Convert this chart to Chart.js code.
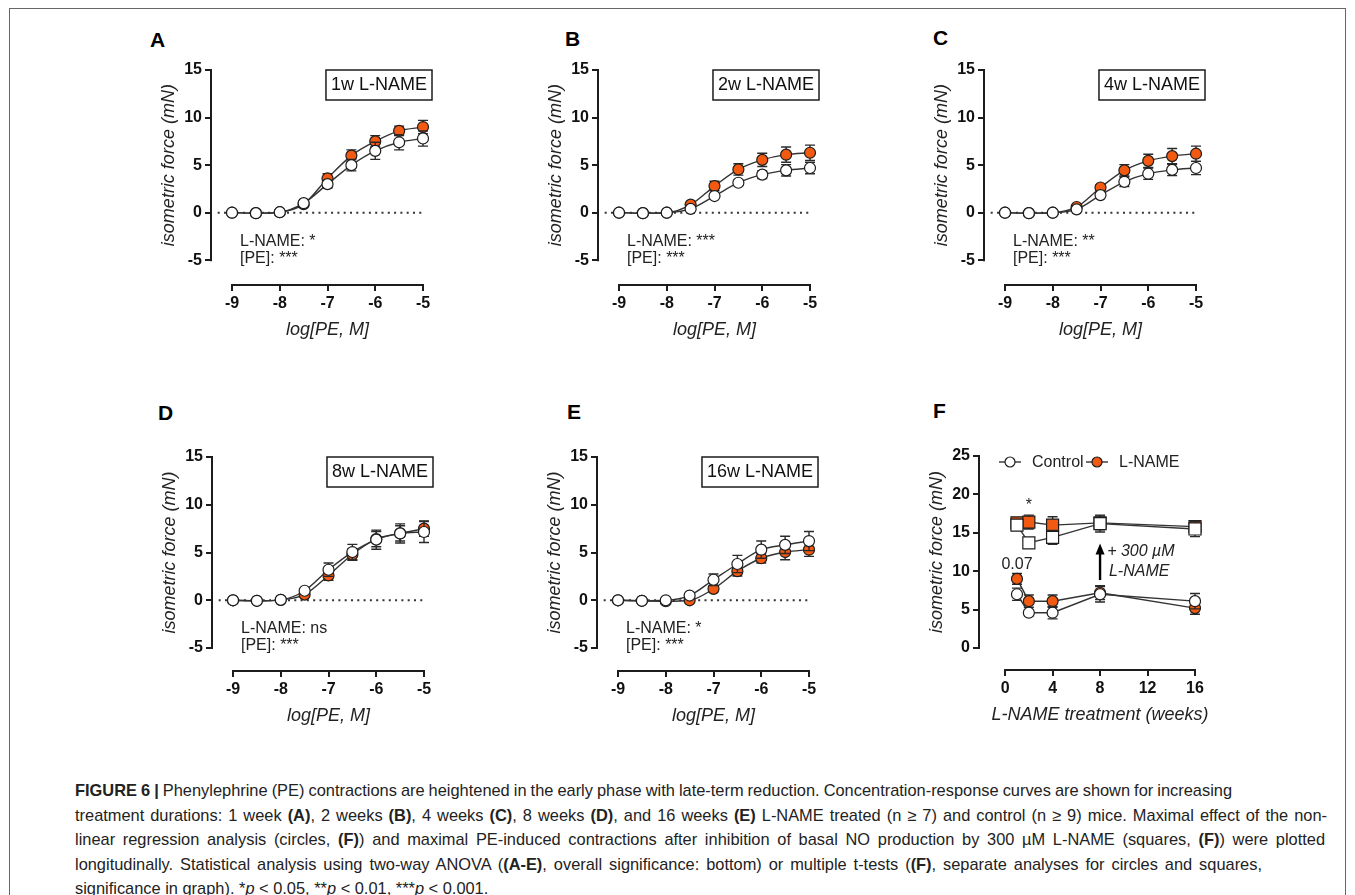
<!DOCTYPE html>
<html>
<head>
<meta charset="utf-8">
<script src="https://cdn.jsdelivr.net/npm/chart.js@4.4.1/dist/chart.umd.min.js"></script>
<style>
  body { margin: 0; background: #fff; }
  #fig { position: relative; width: 1355px; height: 895px; overflow: hidden; font-family: 'Liberation Sans', Arial, sans-serif; }
  #frame { position: absolute; left: 9px; top: 8px; width: 1335px; height: 920px; border: 1.5px solid #666; }
  canvas { position: absolute; }
  .lbl { position: absolute; font-weight: bold; font-size: 21px; line-height: 21px; color: #000; }
  #caption { position: absolute; left: 75px; top: 778px; font-size: 16.4px; line-height: 24.5px; color: #222; white-space: nowrap; }
  #caption div { text-align: justify; text-align-last: justify; }
  #caption div.last { text-align: left; text-align-last: left; }
</style>
</head>
<body>
<div id="fig">
  <div id="frame"></div>
  <div class="lbl" style="left:150px;top:29px">A</div>
  <div class="lbl" style="left:565px;top:28px">B</div>
  <div class="lbl" style="left:933px;top:27px">C</div>
  <div class="lbl" style="left:158px;top:402px">D</div>
  <div class="lbl" style="left:567px;top:401px">E</div>
  <div class="lbl" style="left:933px;top:400px">F</div>

  <canvas id="panelA" width="290" height="305" style="left:149px;top:45px"></canvas>
  <canvas id="panelB" width="290" height="305" style="left:536px;top:45px"></canvas>
  <canvas id="panelC" width="290" height="305" style="left:922px;top:45px"></canvas>
  <canvas id="panelD" width="290" height="304" style="left:150px;top:432px"></canvas>
  <canvas id="panelE" width="290" height="304" style="left:535px;top:432px"></canvas>
  <canvas id="panelF" width="298" height="304" style="left:917px;top:431px"></canvas>

  <div id="caption">
    <div style="width:1157px;word-spacing:-0.6px"><b>FIGURE 6 |</b> Phenylephrine (PE) contractions are heightened in the early phase with late-term reduction. Concentration-response curves are shown for increasing</div>
    <div style="width:1252px">treatment durations: 1 week <b>(A)</b>, 2 weeks <b>(B)</b>, 4 weeks <b>(C)</b>, 8 weeks <b>(D)</b>, and 16 weeks <b>(E)</b> L-NAME treated (n ≥ 7) and control (n ≥ 9) mice. Maximal effect of the non-</div>
    <div style="width:1250px">linear regression analysis (circles, <b>(F)</b>) and maximal PE-induced contractions after inhibition of basal NO production by 300 µM L-NAME (squares, <b>(F)</b>) were plotted</div>
    <div style="width:1187px">longitudinally. Statistical analysis using two-way ANOVA (<b>(A-E)</b>, overall significance: bottom) or multiple t-tests (<b>(F)</b>, separate analyses for circles and squares,</div>
    <div class="last">significance in graph). *<i>p</i> &lt; 0.05, **<i>p</i> &lt; 0.01, ***<i>p</i> &lt; 0.001.</div>
  </div>
</div>

<script>
// concentration-response panels (A-E)
const logPE = [-9, -8.5, -8, -7.5, -7, -6.5, -6, -5.5, -5];
const crcXTicks = [-9, -8, -7, -6, -5];
const crcYTicks = [-5, 0, 5, 10, 15];

const ctrl1w = [0, -0.05, 0.05, 1.0, 3.0, 5.0, 6.5, 7.4, 7.8];
const ctrl1wSem = [0, 0, 0, 0.15, 0.4, 0.6, 0.9, 0.8, 0.8];
const lname1w = [0, -0.05, 0.05, 0.9, 3.6, 6.0, 7.5, 8.6, 9.0];
const lname1wSem = [0, 0, 0, 0.15, 0.5, 0.6, 0.6, 0.5, 0.7];

const ctrl2w = [0, -0.05, 0, 0.4, 1.75, 3.15, 4.0, 4.45, 4.7];
const ctrl2wSem = [0, 0, 0, 0.1, 0.2, 0.3, 0.4, 0.6, 0.6];
const lname2w = [0, -0.05, 0, 0.85, 2.8, 4.55, 5.55, 6.1, 6.3];
const lname2wSem = [0, 0, 0, 0.2, 0.5, 0.6, 0.7, 0.8, 0.8];

const ctrl4w = [0, -0.05, 0, 0.35, 1.85, 3.25, 4.1, 4.5, 4.7];
const ctrl4wSem = [0, 0, 0, 0.1, 0.2, 0.5, 0.6, 0.6, 0.7];
const lname4w = [0, -0.05, 0, 0.6, 2.65, 4.45, 5.45, 5.95, 6.2];
const lname4wSem = [0, 0, 0, 0.1, 0.3, 0.6, 0.7, 0.8, 0.8];

const ctrl8w = [0, -0.05, 0.05, 1.0, 3.2, 5.05, 6.35, 7.0, 7.15];
const ctrl8wSem = [0, 0, 0, 0.2, 0.7, 0.8, 1.0, 1.0, 1.1];
const lname8w = [0, -0.05, 0.05, 0.6, 2.6, 4.8, 6.4, 7.0, 7.5];
const lname8wSem = [0, 0, 0, 0.2, 0.5, 0.6, 0.8, 0.8, 0.8];

const ctrl16w = [0, -0.05, 0, 0.5, 2.15, 3.8, 5.3, 5.8, 6.2];
const ctrl16wSem = [0, 0, 0, 0.1, 0.6, 0.9, 0.9, 0.9, 1.0];
const lname16w = [0, -0.05, -0.1, 0, 1.2, 3.05, 4.4, 5.05, 5.3];
const lname16wSem = [0, 0, 0, 0.1, 0.3, 0.5, 0.5, 0.8, 0.7];

// longitudinal panel (F)
const weeks = [1, 2, 4, 8, 16];
const weekTicks = [0, 4, 8, 12, 16];
const forceTicksF = [0, 5, 10, 15, 20, 25];
const ctrlBasal = [7.0, 4.6, 4.6, 7.0, 6.1];
const ctrlBasalSem = [0.8, 0.4, 0.8, 1.0, 1.0];
const lnameBasal = [9.0, 6.1, 6.1, 7.2, 5.2];
const lnameBasalSem = [0.7, 0.8, 0.8, 0.9, 0.8];
const ctrlInhib = [16.0, 13.7, 14.4, 16.2, 15.5];
const ctrlInhibSem = [0.6, 0.5, 0.9, 1.1, 1.0];
const lnameInhib = [16.3, 16.4, 16.0, 16.3, 15.8];
const lnameInhibSem = [0.4, 0.9, 1.1, 0.9, 0.6];

const FONT = "'Liberation Sans', Arial, sans-serif";
const ORANGE = '#f15a10';
const INK = '#1c1c1c';
Chart.defaults.font.family = FONT;

const decorById = {};

function pts(xs, ys) {
    return xs.map((x, i) => ({x: x, y: ys[i]}));
}

function series(label, xs, ys, sem, fill, style, smooth) {
    return {
        label: label,
        data: pts(xs, ys),
        sem: sem,
        borderColor: '#333',
        borderWidth: 1.4,
        pointStyle: style,
        pointRadius: style === 'rect' ? 8.5 : 5.5,
        pointBackgroundColor: fill,
        pointBorderColor: INK,
        pointBorderWidth: 1.2,
        cubicInterpolationMode: smooth ? 'monotone' : 'default',
        tension: 0,
        clip: false
    };
}

function axis(min, max, ticks, size, isY) {
    return {
        type: 'linear',
        min: min,
        max: max,
        bounds: 'data',
        afterBuildTicks: a => { a.ticks = ticks.map(v => ({value: v})); },
        afterFit: a => { if (isY) a.width = size; else a.height = size; },
        border: {display: false},
        grid: {drawOnChartArea: false, drawTicks: true, tickLength: 6, color: INK, lineWidth: 2},
        ticks: {padding: 3, color: '#111', font: {size: 16, weight: 'bold'}}
    };
}

const decor = {
    id: 'decor',
    beforeDatasetsDraw(chart) {
        const o = decorById[chart.canvas.id];
        const {ctx, chartArea: ca, scales: {x, y}} = chart;
        const x0 = x.getPixelForValue(o.xTicks[0]);
        const x1 = x.getPixelForValue(o.xTicks[o.xTicks.length - 1]);
        const y0 = y.getPixelForValue(o.yTicks[0]);
        const y1 = y.getPixelForValue(o.yTicks[o.yTicks.length - 1]);
        ctx.save();
        ctx.strokeStyle = INK;
        ctx.lineWidth = 2;
        ctx.beginPath();
        ctx.moveTo(ca.left, y0 + 1);
        ctx.lineTo(ca.left, y1 - 1);
        ctx.moveTo(x0 - 1, ca.bottom);
        ctx.lineTo(x1 + 1, ca.bottom);
        ctx.stroke();
        if (o.zeroFrom !== undefined) {
            const yz = y.getPixelForValue(0);
            ctx.setLineDash([2, 4.3]);
            ctx.strokeStyle = '#333';
            ctx.beginPath();
            ctx.moveTo(x.getPixelForValue(o.zeroFrom), yz);
            ctx.lineTo(x1, yz);
            ctx.stroke();
        }
        ctx.restore();
    },
    beforeDatasetDraw(chart, args) {
        // SEM bars, drawn under each dataset's markers
        const ds = chart.data.datasets[args.index];
        if (!ds.sem) return;
        const {ctx, scales: {y}} = chart;
        ctx.save();
        ctx.strokeStyle = '#2a2a2a';
        ctx.lineWidth = 1.4;
        args.meta.data.forEach((pt, i) => {
            const e = ds.sem[i];
            if (!e) return;
            const v = ds.data[i].y;
            const top = y.getPixelForValue(v + e);
            const bot = y.getPixelForValue(v - e);
            ctx.beginPath();
            ctx.moveTo(pt.x, top); ctx.lineTo(pt.x, bot);
            ctx.moveTo(pt.x - 5, top); ctx.lineTo(pt.x + 5, top);
            ctx.moveTo(pt.x - 5, bot); ctx.lineTo(pt.x + 5, bot);
            ctx.stroke();
        });
        ctx.restore();
    },
    afterDatasetsDraw(chart) {
        const o = decorById[chart.canvas.id];
        const {ctx, chartArea: ca, scales: {x, y}} = chart;
        const x0 = x.getPixelForValue(o.xTicks[0]);
        const x1 = x.getPixelForValue(o.xTicks[o.xTicks.length - 1]);
        const yMid = (y.getPixelForValue(o.yTicks[0]) + y.getPixelForValue(o.yTicks[o.yTicks.length - 1])) / 2;
        ctx.save();
        ctx.fillStyle = '#222';
        ctx.textAlign = 'center';
        ctx.textBaseline = 'middle';
        ctx.font = 'italic 18px ' + FONT;
        ctx.save();
        ctx.translate(ca.left - 42, yMid);
        ctx.rotate(-Math.PI / 2);
        ctx.fillText(o.yTitle, 0, 0);
        ctx.restore();
        ctx.fillText(o.xTitle, (x0 + x1) / 2, ca.bottom + 45);

        if (o.box) {
            ctx.font = '18px ' + FONT;
            const w = ctx.measureText(o.box).width + 10;
            const r = ca.left + 221;
            ctx.strokeStyle = INK;
            ctx.lineWidth = 1.5;
            ctx.strokeRect(r - w, ca.top, w, 30);
            ctx.fillStyle = '#111';
            ctx.fillText(o.box, r - w / 2, ca.top + 15.5);
        }

        (o.notes || []).forEach(n => {
            ctx.font = n.font;
            ctx.textAlign = n.align || 'left';
            ctx.fillStyle = '#222';
            const px = n.dx !== undefined ? ca.left + n.dx : x.getPixelForValue(n.x);
            const py = n.dy !== undefined ? ca.top + n.dy : y.getPixelForValue(n.y);
            ctx.fillText(n.text, px, py);
        });

        (o.legend || []).forEach(item => {
            const cx = ca.left + item.dx;
            const cy = ca.top + 6;
            ctx.strokeStyle = '#333';
            ctx.lineWidth = 1.4;
            ctx.beginPath();
            ctx.moveTo(cx - 11, cy); ctx.lineTo(cx + 11, cy);
            ctx.stroke();
            ctx.beginPath();
            ctx.arc(cx, cy, 5, 0, Math.PI * 2);
            ctx.fillStyle = item.fill;
            ctx.fill();
            ctx.lineWidth = 1.2;
            ctx.strokeStyle = INK;
            ctx.stroke();
            ctx.font = '16px ' + FONT;
            ctx.textAlign = 'left';
            ctx.fillStyle = '#222';
            ctx.fillText(item.label, cx + 22, cy + 1);
        });

        if (o.arrow) {
            const ax = x.getPixelForValue(o.arrow.x);
            const yFrom = y.getPixelForValue(o.arrow.from);
            const yTo = y.getPixelForValue(o.arrow.to);
            ctx.strokeStyle = '#000';
            ctx.fillStyle = '#000';
            ctx.lineWidth = 2.4;
            ctx.beginPath();
            ctx.moveTo(ax, yFrom); ctx.lineTo(ax, yTo + 8);
            ctx.stroke();
            ctx.beginPath();
            ctx.moveTo(ax, yTo); ctx.lineTo(ax - 4.5, yTo + 11); ctx.lineTo(ax + 4.5, yTo + 11);
            ctx.closePath();
            ctx.fill();
        }
        ctx.restore();
    }
};

function generateCRC(id, ctrl, ctrlSem, lname, lnameSem, boxText, lnameStat, yMin) {
    decorById[id] = {
        xTicks: crcXTicks, yTicks: crcYTicks, zeroFrom: -9.3,
        yTitle: 'isometric force (mN)', xTitle: 'log[PE, M]',
        box: boxText,
        notes: [
            {text: 'L-NAME: ' + lnameStat, dx: 29, dy: 172, font: '16px ' + FONT},
            {text: '[PE]: ***', dx: 29, dy: 189, font: '16px ' + FONT}
        ]
    };
    return new Chart(document.getElementById(id), {
        type: 'line',
        data: {
            datasets: [
                series('Control', logPE, ctrl, ctrlSem, '#ffffff', 'circle', true),
                series('L-NAME', logPE, lname, lnameSem, ORANGE, 'circle', true)
            ]
        },
        options: {
            responsive: false, animation: false, events: [], devicePixelRatio: 1,
            layout: {padding: {left: 0, top: 25, right: 16, bottom: 0}},
            scales: {
                x: axis(-9.44, -5, crcXTicks, 65, false),
                y: axis(yMin, 15, crcYTicks, 62, true)
            },
            plugins: {legend: {display: false}, tooltip: {enabled: false}}
        },
        plugins: [decor]
    });
}

generateCRC('panelA', ctrl1w, ctrl1wSem, lname1w, lname1wSem, '1w L-NAME', '*', -7.6);
generateCRC('panelB', ctrl2w, ctrl2wSem, lname2w, lname2wSem, '2w L-NAME', '***', -7.6);
generateCRC('panelC', ctrl4w, ctrl4wSem, lname4w, lname4wSem, '4w L-NAME', '**', -7.6);
generateCRC('panelD', ctrl8w, ctrl8wSem, lname8w, lname8wSem, '8w L-NAME', 'ns', -7.4);
generateCRC('panelE', ctrl16w, ctrl16wSem, lname16w, lname16wSem, '16w L-NAME', '*', -7.4);

function generateTimeCourse(id) {
    decorById[id] = {
        xTicks: weekTicks, yTicks: forceTicksF,
        yTitle: 'isometric force (mN)', xTitle: 'L-NAME treatment (weeks)',
        legend: [
            {label: 'Control', fill: '#ffffff', dx: 31},
            {label: 'L-NAME', fill: ORANGE, dx: 118}
        ],
        notes: [
            {text: '*', x: 2, y: 18.5, font: '16px ' + FONT, align: 'center'},
            {text: '0.07', x: 1, y: 10.8, font: '16px ' + FONT, align: 'center'},
            {text: '+ 300 µM', x: 8.6, y: 12.5, font: 'italic 16px ' + FONT},
            {text: 'L-NAME', x: 8.75, y: 9.9, font: 'italic 16px ' + FONT}
        ],
        arrow: {x: 8, from: 8.85, to: 13.6}
    };
    return new Chart(document.getElementById(id), {
        type: 'line',
        data: {
            datasets: [
                series('Control', weeks, ctrlBasal, ctrlBasalSem, '#ffffff', 'circle', false),
                series('Control + L-NAME', weeks, ctrlInhib, ctrlInhibSem, '#ffffff', 'rect', false),
                series('L-NAME', weeks, lnameBasal, lnameBasalSem, ORANGE, 'circle', false),
                series('L-NAME + L-NAME', weeks, lnameInhib, lnameInhibSem, ORANGE, 'rect', false)
            ]
        },
        options: {
            responsive: false, animation: false, events: [], devicePixelRatio: 1,
            layout: {padding: {left: 0, top: 25, right: 20, bottom: 0}},
            scales: {
                x: axis(-2.2, 16, weekTicks, 65, false),
                y: axis(-2.86, 25, forceTicksF, 62, true)
            },
            plugins: {legend: {display: false}, tooltip: {enabled: false}}
        },
        plugins: [decor]
    });
}

generateTimeCourse('panelF');
</script>
</body>
</html>
